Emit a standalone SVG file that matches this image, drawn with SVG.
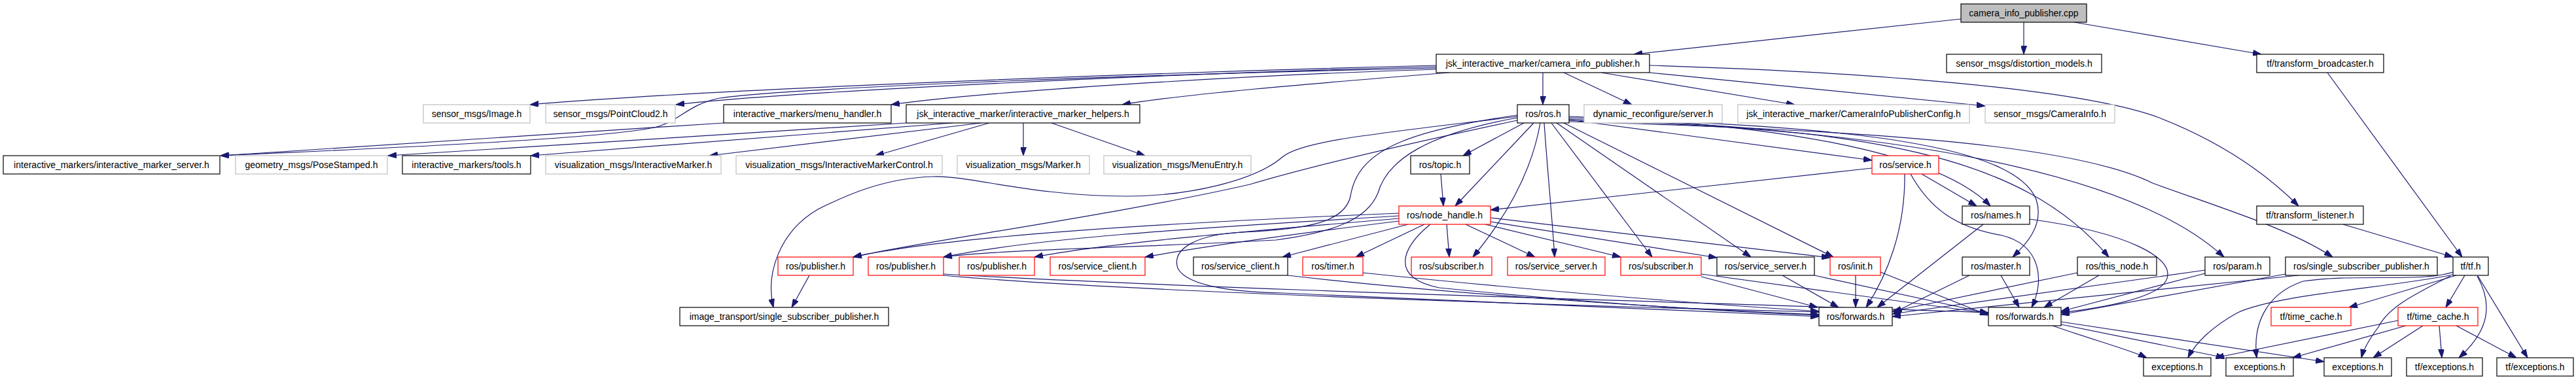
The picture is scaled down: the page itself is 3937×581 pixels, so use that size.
<svg xmlns="http://www.w3.org/2000/svg" width="3937" height="581" viewBox="0 0 3937 581">
<style>
.nd rect{fill:#fff;stroke:#000;stroke-width:1.2}
.nd.g rect{stroke:#bfbfbf}
.nd.r rect{stroke:#ff0000}
.nd.root rect{fill:#bfbfbf}
.nd text{font-family:"Liberation Sans",Arial,sans-serif;font-size:14px;text-anchor:middle;fill:#000}
#edges path{fill:none;stroke:#191970;stroke-width:1.2;marker-end:url(#ah)}
</style>
<defs>
<marker id="ah" viewBox="0 0 13 9" refX="13" refY="4.5" markerWidth="13" markerHeight="9" orient="auto" markerUnits="userSpaceOnUse"><path d="M0,0 L13,4.5 L0,9 z" fill="#191970" stroke="#191970" stroke-width="1"/></marker>
</defs>
<rect width="3937" height="581" fill="#fff"/>
<g id="edges">
<path d="M2997,29 L2497,83"/>
<path d="M3093,34 L3093,83"/>
<path d="M3170,34 L3456,83"/>
<path d="M2358,111 L2358,160"/>
<path d="M2390,111 L2494,160"/>
<path d="M2447,111 L2743,160"/>
<path d="M2521,111 L3034,162"/>
<path d="M2521,100 C2850,110 3180,135 3300,180 C3390,215 3460,262 3513,315"/>
<path d="M2195,100 C1800,110 1100,135 810,160"/>
<path d="M2195,102 C1800,112 1200,140 1033,160"/>
<path d="M2195,106 C1900,115 1500,140 1362,160"/>
<path d="M2215,111 C2000,128 1800,145 1715,160"/>
<path d="M2195,104 C1700,115 1200,135 1100,150 C1050,160 1040,185 1000,195 C900,215 500,230 337,238"/>
<path d="M1106,188 L337,238"/>
<path d="M1385,188 C1200,200 800,225 593,238"/>
<path d="M1456,188 L811,238"/>
<path d="M1500,188 L1084,238"/>
<path d="M1512,188 L1338,238"/>
<path d="M1564,188 L1564,238"/>
<path d="M1607,188 L1750,238"/>
<path d="M2329,188 L2236,238"/>
<path d="M2202,266 L2206,315"/>
<path d="M2344,188 L2224,315"/>
<path d="M2354,188 C2345,240 2320,310 2251,393"/>
<path d="M2360,188 C2365,260 2372,330 2376,393"/>
<path d="M2371,188 L2525,393"/>
<path d="M2379,188 L2676,393"/>
<path d="M2390,188 L2802,393"/>
<path d="M2398,183 L2861,245"/>
<path d="M2398,178 C2700,188 2960,230 3042,315"/>
<path d="M2398,180 C2850,192 3080,225 3112,305 C3125,345 3095,375 3076,393"/>
<path d="M2398,182 C2850,195 3090,235 3223,393"/>
<path d="M2398,184 C2900,195 3260,265 3399,393"/>
<path d="M2398,186 C2900,200 3180,225 3290,280 C3400,320 3500,350 3565,393"/>
<path d="M2319,178 C2100,205 1990,215 1960,240 C1920,275 1820,300 1721,300 C1580,300 1480,268 1426,270 C1350,272 1290,300 1250,320 C1190,355 1170,420 1182,470"/>
<path d="M2319,184 C2150,220 2000,255 1910,282 C1700,330 1400,370 1304,393"/>
<path d="M2319,180 C2180,205 2120,245 2106,295 C2090,335 2040,355 1950,367 C1750,378 1520,382 1442,393"/>
<path d="M2319,176 C2150,200 2075,230 2064,300 C2055,340 2000,350 1900,355 C1830,358 1790,380 1800,410 C1815,440 1900,447 1960,448 C2300,462 2600,478 2780,484"/>
<path d="M2911,266 C2912,350 2885,420 2852,470"/>
<path d="M2920,266 C2950,320 2990,348 3060,360 C3120,375 3125,430 3105,470"/>
<path d="M2937,266 L3021,315"/>
<path d="M2861,257 L2278,321"/>
<path d="M3031,343 L2869,470"/>
<path d="M3102,335 C3250,355 3330,395 3310,430 C3295,455 3220,470 3150,478"/>
<path d="M3010,421 L2894,478"/>
<path d="M3058,421 L3086,470"/>
<path d="M2836,421 L2836,470"/>
<path d="M2874,416 L3039,482"/>
<path d="M2724,421 L2810,470"/>
<path d="M2773,421 L3039,479"/>
<path d="M3175,417 L2892,476"/>
<path d="M3208,421 L3124,470"/>
<path d="M3370,413 L2892,480"/>
<path d="M3370,418 L3150,476"/>
<path d="M3513,421 L2892,484"/>
<path d="M3493,419 L3150,481"/>
<path d="M2152,343 L1960,393"/>
<path d="M2177,343 L2072,393"/>
<path d="M2211,343 L2215,393"/>
<path d="M2240,343 L2346,393"/>
<path d="M2270,343 L2477,393"/>
<path d="M2278,333 L2797,394"/>
<path d="M2278,339 L2624,394"/>
<path d="M2186,343 C2140,380 2125,425 2200,440 C2400,460 2600,475 2780,482"/>
<path d="M2138,326 C1800,340 1450,360 1304,393"/>
<path d="M2138,330 C1900,345 1600,360 1442,393"/>
<path d="M2138,334 C1950,350 1700,370 1581,393"/>
<path d="M2138,338 C2000,355 1850,375 1750,393"/>
<path d="M1237,421 L1210,470"/>
<path d="M1442,421 C1700,445 2400,468 2780,477"/>
<path d="M1442,419 C1900,445 2600,462 3039,478"/>
<path d="M2083,417 C2300,440 2600,465 2780,476"/>
<path d="M1968,421 C2200,448 2550,472 2780,481"/>
<path d="M2600,423 L2778,470"/>
<path d="M2600,419 L3039,479"/>
<path d="M3557,111 L3763,393"/>
<path d="M3581,343 L3749,393"/>
<path d="M3749,416 C3700,432 3600,418 3520,430 C3460,450 3443,500 3449,547"/>
<path d="M3749,420 C3650,440 3480,450 3420,478 C3380,500 3355,525 3344,547"/>
<path d="M3754,421 L3590,470"/>
<path d="M3767,421 L3738,470"/>
<path d="M3745,422 C3690,450 3650,470 3635,500 C3620,520 3612,535 3609,547"/>
<path d="M3786,422 C3810,465 3805,505 3758,547"/>
<path d="M3787,422 L3863,547"/>
<path d="M3665,490 L3386,547"/>
<path d="M3677,498 L3504,547"/>
<path d="M3703,498 L3627,547"/>
<path d="M3728,498 L3732,547"/>
<path d="M3754,498 L3846,547"/>
<path d="M3137,498 C3200,520 3255,535 3281,547"/>
<path d="M3150,496 L3400,547"/>
<path d="M3150,492 L3552,553"/>
</g>
<g id="n_root" class="nd root"><rect x="2997" y="6" width="192" height="28"/><text x="3093" y="25">camera_info_publisher.cpp</text></g>
<g id="n_cip_h" class="nd"><rect x="2195" y="83" width="326" height="28"/><text x="2358" y="102">jsk_interactive_marker/camera_info_publisher.h</text></g>
<g id="n_distortion" class="nd"><rect x="2975" y="83" width="237" height="28"/><text x="3093.5" y="102">sensor_msgs/distortion_models.h</text></g>
<g id="n_broadcaster" class="nd"><rect x="3449" y="83" width="194" height="28"/><text x="3546" y="102">tf/transform_broadcaster.h</text></g>
<g id="n_image" class="nd g"><rect x="647" y="160" width="163" height="28"/><text x="728.5" y="179">sensor_msgs/Image.h</text></g>
<g id="n_pc2" class="nd g"><rect x="834" y="160" width="198" height="28"/><text x="933" y="179">sensor_msgs/PointCloud2.h</text></g>
<g id="n_menu" class="nd"><rect x="1106" y="160" width="256" height="28"/><text x="1234" y="179">interactive_markers/menu_handler.h</text></g>
<g id="n_helpers" class="nd"><rect x="1385" y="160" width="357" height="28"/><text x="1563.5" y="179">jsk_interactive_marker/interactive_marker_helpers.h</text></g>
<g id="n_rosh" class="nd"><rect x="2319" y="160" width="79" height="28"/><text x="2358.5" y="179">ros/ros.h</text></g>
<g id="n_dynrec" class="nd g"><rect x="2421" y="160" width="211" height="28"/><text x="2526.5" y="179">dynamic_reconfigure/server.h</text></g>
<g id="n_config" class="nd g"><rect x="2656" y="160" width="354" height="28"/><text x="2833" y="179">jsk_interactive_marker/CameraInfoPublisherConfig.h</text></g>
<g id="n_caminfo" class="nd g"><rect x="3034" y="160" width="198" height="28"/><text x="3133" y="179">sensor_msgs/CameraInfo.h</text></g>
<g id="n_server" class="nd"><rect x="5" y="238" width="331" height="28"/><text x="170.5" y="257">interactive_markers/interactive_marker_server.h</text></g>
<g id="n_pose" class="nd g"><rect x="360" y="238" width="232" height="28"/><text x="476" y="257">geometry_msgs/PoseStamped.h</text></g>
<g id="n_tools" class="nd"><rect x="615" y="238" width="196" height="28"/><text x="713" y="257">interactive_markers/tools.h</text></g>
<g id="n_im" class="nd g"><rect x="834" y="238" width="268" height="28"/><text x="968" y="257">visualization_msgs/InteractiveMarker.h</text></g>
<g id="n_imc" class="nd g"><rect x="1125" y="238" width="315" height="28"/><text x="1282.5" y="257">visualization_msgs/InteractiveMarkerControl.h</text></g>
<g id="n_marker" class="nd g"><rect x="1463" y="238" width="202" height="28"/><text x="1564" y="257">visualization_msgs/Marker.h</text></g>
<g id="n_menuentry" class="nd g"><rect x="1687" y="238" width="225" height="28"/><text x="1799.5" y="257">visualization_msgs/MenuEntry.h</text></g>
<g id="n_topic" class="nd"><rect x="2156" y="238" width="90" height="28"/><text x="2201" y="257">ros/topic.h</text></g>
<g id="n_service" class="nd r"><rect x="2861" y="238" width="102" height="28"/><text x="2912" y="257">ros/service.h</text></g>
<g id="n_nodehandle" class="nd r"><rect x="2138" y="315" width="140" height="28"/><text x="2208" y="334">ros/node_handle.h</text></g>
<g id="n_names" class="nd"><rect x="2999" y="315" width="103" height="28"/><text x="3050.5" y="334">ros/names.h</text></g>
<g id="n_listener" class="nd"><rect x="3449" y="315" width="163" height="28"/><text x="3530.5" y="334">tf/transform_listener.h</text></g>
<g id="n_pub1" class="nd r"><rect x="1189" y="393" width="115" height="28"/><text x="1246.5" y="412">ros/publisher.h</text></g>
<g id="n_pub2" class="nd r"><rect x="1327" y="393" width="115" height="28"/><text x="1384.5" y="412">ros/publisher.h</text></g>
<g id="n_pub3" class="nd r"><rect x="1466" y="393" width="115" height="28"/><text x="1523.5" y="412">ros/publisher.h</text></g>
<g id="n_sc1" class="nd r"><rect x="1605" y="393" width="145" height="28"/><text x="1677.5" y="412">ros/service_client.h</text></g>
<g id="n_sc2" class="nd"><rect x="1824" y="393" width="144" height="28"/><text x="1896" y="412">ros/service_client.h</text></g>
<g id="n_timer" class="nd r"><rect x="1991" y="393" width="92" height="28"/><text x="2037" y="412">ros/timer.h</text></g>
<g id="n_sub1" class="nd r"><rect x="2157" y="393" width="123" height="28"/><text x="2218.5" y="412">ros/subscriber.h</text></g>
<g id="n_ss1" class="nd r"><rect x="2304" y="393" width="149" height="28"/><text x="2378.5" y="412">ros/service_server.h</text></g>
<g id="n_sub2" class="nd r"><rect x="2477" y="393" width="123" height="28"/><text x="2538.5" y="412">ros/subscriber.h</text></g>
<g id="n_ss2" class="nd"><rect x="2624" y="393" width="149" height="28"/><text x="2698.5" y="412">ros/service_server.h</text></g>
<g id="n_init" class="nd r"><rect x="2797" y="393" width="77" height="28"/><text x="2835.5" y="412">ros/init.h</text></g>
<g id="n_master" class="nd"><rect x="2999" y="393" width="103" height="28"/><text x="3050.5" y="412">ros/master.h</text></g>
<g id="n_thisnode" class="nd"><rect x="3175" y="393" width="121" height="28"/><text x="3235.5" y="412">ros/this_node.h</text></g>
<g id="n_param" class="nd"><rect x="3370" y="393" width="99" height="28"/><text x="3419.5" y="412">ros/param.h</text></g>
<g id="n_ssp" class="nd"><rect x="3493" y="393" width="232" height="28"/><text x="3609" y="412">ros/single_subscriber_publisher.h</text></g>
<g id="n_tf" class="nd"><rect x="3749" y="393" width="54" height="28"/><text x="3776" y="412">tf/tf.h</text></g>
<g id="n_itssp" class="nd"><rect x="1039" y="470" width="319" height="28"/><text x="1198.5" y="489">image_transport/single_subscriber_publisher.h</text></g>
<g id="n_fwd1" class="nd"><rect x="2780" y="470" width="112" height="28"/><text x="2836" y="489">ros/forwards.h</text></g>
<g id="n_fwd2" class="nd"><rect x="3039" y="470" width="111" height="28"/><text x="3094.5" y="489">ros/forwards.h</text></g>
<g id="n_tc1" class="nd r"><rect x="3471" y="470" width="122" height="28"/><text x="3532" y="489">tf/time_cache.h</text></g>
<g id="n_tc2" class="nd r"><rect x="3665" y="470" width="122" height="28"/><text x="3726" y="489">tf/time_cache.h</text></g>
<g id="n_exc1" class="nd"><rect x="3276" y="547" width="103" height="28"/><text x="3327.5" y="566">exceptions.h</text></g>
<g id="n_exc2" class="nd"><rect x="3402" y="547" width="103" height="28"/><text x="3453.5" y="566">exceptions.h</text></g>
<g id="n_exc3" class="nd"><rect x="3552" y="547" width="103" height="28"/><text x="3603.5" y="566">exceptions.h</text></g>
<g id="n_tfexc1" class="nd"><rect x="3678" y="547" width="116" height="28"/><text x="3736" y="566">tf/exceptions.h</text></g>
<g id="n_tfexc2" class="nd"><rect x="3816" y="547" width="117" height="28"/><text x="3874.5" y="566">tf/exceptions.h</text></g>
</svg>
